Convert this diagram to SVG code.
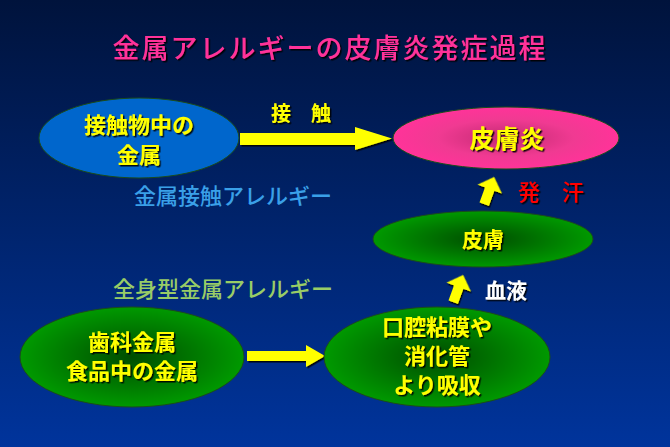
<svg xmlns="http://www.w3.org/2000/svg" width="670" height="447" viewBox="0 0 670 447">
<defs>
<linearGradient id="bg" x1="0" y1="0" x2="0" y2="1">
<stop offset="0" stop-color="#00133c"/>
<stop offset="1" stop-color="#00349c"/>
</linearGradient>
<radialGradient id="gGreen" cx="0.5" cy="0.5" r="0.5">
<stop offset="0" stop-color="#004d00"/>
<stop offset="1" stop-color="#009900"/>
</radialGradient>
<radialGradient id="gPink" cx="0.5" cy="0.5" r="0.5">
<stop offset="0" stop-color="#c22a72"/>
<stop offset="0.6" stop-color="#f03a92"/>
<stop offset="1" stop-color="#ff3399"/>
</radialGradient>
<filter id="sh" x="-20%" y="-20%" width="140%" height="140%">
<feDropShadow dx="1.5" dy="1.5" stdDeviation="0.4" flood-color="#000000" flood-opacity="0.9"/>
</filter>
<g id="upArrow">
<polygon points="0,-15 13,-2 5,-2 5,14 -5,14 -5,-2 -13,-2"/>
</g>
</defs>
<style>
text{font-family:"Noto Sans CJK JP","Noto Sans CJK SC",sans-serif;font-weight:bold;text-anchor:middle}
.y{fill:#ffff00;font-size:22px;filter:url(#sh)}
.node{stroke:#1a4d1a;stroke-width:1}
.arr{fill:#ffff00;filter:url(#sh)}
.sub{font-size:22px;font-weight:500}
</style>
<rect width="670" height="447" fill="url(#bg)"/>
<text x="330" y="58" fill="#ff3399" style="font-size:27px;font-weight:500;letter-spacing:2px;filter:url(#sh)">金属アレルギーの皮膚炎発症過程</text>

<g id="connectors">
<polygon class="arr" points="240,133 355,133 355,127 392,138.5 355,150 355,145 240,145"/>
<polygon class="arr" points="247,351 306,351 306,345 325,356 306,367 306,361 247,361"/>
<use href="#upArrow" class="arr" transform="translate(489,191) rotate(20)"/>
<use href="#upArrow" class="arr" transform="translate(458,289) rotate(20)"/>
<text class="y" x="301" y="121" style="font-size:20px">接　触</text>
<text x="551" y="200" fill="#ff0000" style="font-size:22px;font-weight:500;filter:url(#sh)">発　汗</text>
<text x="506" y="298" fill="#ffffff" style="font-size:21px;filter:url(#sh)">血液</text>
</g>

<g id="n-contact">
<ellipse class="node" cx="139" cy="138" rx="100" ry="40" fill="#0066cc"/>
<text class="y" x="139" y="133">接触物中の</text>
<text class="y" x="139" y="163">金属</text>
</g>

<g id="n-dermatitis">
<ellipse class="node" cx="506" cy="138" rx="113" ry="31" fill="url(#gPink)"/>
<text class="y" x="507" y="148" style="font-size:25px">皮膚炎</text>
</g>

<g id="n-skin">
<ellipse class="node" cx="483" cy="239" rx="110" ry="28" fill="url(#gGreen)"/>
<text class="y" x="483" y="247" style="font-size:21px">皮膚</text>
</g>

<g id="n-dental">
<ellipse class="node" cx="132" cy="357" rx="112" ry="50" fill="url(#gGreen)"/>
<text class="y" x="132" y="350">歯科金属</text>
<text class="y" x="132" y="379">食品中の金属</text>
</g>

<g id="n-absorb">
<ellipse class="node" cx="437" cy="357" rx="113" ry="50" fill="url(#gGreen)"/>
<text class="y" x="437" y="335">口腔粘膜や</text>
<text class="y" x="437" y="364">消化管</text>
<text class="y" x="437" y="393">より吸収</text>
</g>

<text class="sub" x="233" y="204" fill="#3aa0e8">金属接触アレルギー</text>
<text class="sub" x="223" y="297" fill="#99cc66">全身型金属アレルギー</text>
</svg>
